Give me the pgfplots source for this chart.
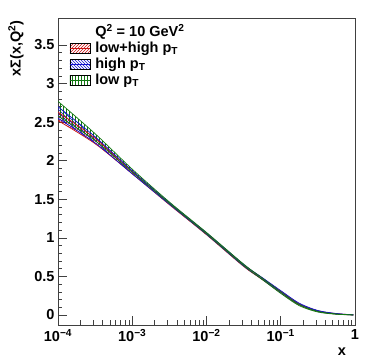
\documentclass[border=0pt]{standalone}
\usepackage{pgfplots}
\pgfplotsset{compat=1.18}
\usepackage{pgfplotstable}
\usepgfplotslibrary{fillbetween}
\usetikzlibrary{patterns}
\usepackage{fontspec}
\setmainfont{Liberation Sans}
\definecolor{rred}{HTML}{CC1111}
\definecolor{rblue}{HTML}{1111CC}
\definecolor{rgreen}{HTML}{117711}
\newcommand\rootfont{\bfseries\fontsize{14.5}{16}\selectfont}

% x, upper, lower edge of each band (Q^2 = 10 GeV^2)
\pgfplotstableread{
x        up     lo
1e-4     2.63   2.52
3.16e-4  2.29   2.22
1e-3     1.86   1.83
3.16e-3  1.45   1.43
1e-2     1.06   1.04
3.16e-2  0.65   0.63
5.62e-2  0.48   0.46
0.1      0.31   0.29
0.178    0.145  0.13
0.316    0.054  0.045
0.562    0.017  0.012
0.95     0.002  0.0
}\lowhigh
\pgfplotstableread{
x        up     lo
1e-4     2.70   2.55
3.16e-4  2.31   2.23
1e-3     1.87   1.83
3.16e-3  1.455  1.435
1e-2     1.065  1.045
3.16e-2  0.655  0.635
5.62e-2  0.485  0.465
0.1      0.315  0.295
0.178    0.152  0.137
0.316    0.058  0.049
0.562    0.019  0.014
0.95     0.002  0.0
}\high
\pgfplotstableread{
x        up     lo
1e-4     2.77   2.58
3.16e-4  2.35   2.26
1e-3     1.89   1.85
3.16e-3  1.465  1.445
1e-2     1.07   1.05
3.16e-2  0.66   0.64
5.62e-2  0.48   0.46
0.1      0.30   0.28
0.178    0.135  0.12
0.316    0.046  0.038
0.562    0.013  0.009
0.95     0.001  0.0
}\low

\begin{document}
\begin{tikzpicture}
\begin{axis}[
  at={(0,0)}, anchor=south west,
  scale only axis, width=297pt, height=307pt,
  xmode=log, xmin=1e-4, xmax=1,
  ymin=-0.13, ymax=3.85,
  xtick={1e-4,1e-3,1e-2,1e-1,1},
  xticklabels={10\textsuperscript{−4},10\textsuperscript{−3},10\textsuperscript{−2},10\textsuperscript{−1},1},
  ytick={0,0.5,1,1.5,2,2.5,3,3.5},
  minor y tick num=4,
  xtick pos=bottom, ytick pos=left,
  tick align=inside,
  major tick length=9pt, minor tick length=4.5pt,
  every tick/.style={black!75, line width=0.6pt},
  axis line style={black!75, line width=0.8pt},
  /pgf/number format/assume math mode=true,
  tick label style={font=\rootfont},
  xticklabel style={yshift=-1pt},
  legend style={at={(rel axis cs:0.035,0.99)}, anchor=north west, draw=none, fill=none,
    font=\rootfont, row sep=0pt, inner sep=1pt,
    /tikz/every odd column/.append style={column sep=3pt}},
  legend cell align=left,
  every axis plot/.append style={line width=0.7pt},
]
\addlegendimage{empty legend}
\addlegendentry{Q\textsuperscript{2} = 10 GeV\textsuperscript{2}}
\addlegendimage{legend image code/.code={
  \fill[pattern=north east lines, pattern color=rred] (0pt,-5pt) rectangle (20pt,5pt);
  \draw[rred, line width=0.7pt] (0pt,0pt) -- (20pt,0pt);}}
\addlegendentry{low+high p\textsubscript{T}}
\addlegendimage{legend image code/.code={
  \fill[pattern=north west lines, pattern color=rblue] (0pt,-5pt) rectangle (20pt,5pt);
  \draw[rblue, line width=0.7pt] (0pt,0pt) -- (20pt,0pt);}}
\addlegendentry{high p\textsubscript{T}}
\addlegendimage{legend image code/.code={
  \fill[pattern=vertical lines, pattern color=rgreen] (0pt,-5pt) rectangle (20pt,5pt);
  \draw[rgreen, line width=0.7pt] (0pt,0pt) -- (20pt,0pt);}}
\addlegendentry{low p\textsubscript{T}}

\addplot[name path=ru, rred, smooth, forget plot] table[x=x, y=up] {\lowhigh};
\addplot[name path=rl, rred, smooth, forget plot] table[x=x, y=lo] {\lowhigh};
\addplot[pattern=north east lines, pattern color=rred, draw=none, forget plot] fill between[of=ru and rl];

\addplot[name path=bu, rblue, smooth, forget plot] table[x=x, y=up] {\high};
\addplot[name path=bl, rblue, smooth, forget plot] table[x=x, y=lo] {\high};
\addplot[pattern=north west lines, pattern color=rblue, draw=none, forget plot] fill between[of=bu and bl];

\addplot[name path=gu, rgreen, smooth, forget plot] table[x=x, y=up] {\low};
\addplot[name path=gl, rgreen, smooth, forget plot] table[x=x, y=lo] {\low};
\addplot[pattern=vertical lines, pattern color=rgreen, draw=none, forget plot] fill between[of=gu and gl];
\end{axis}
\node[font=\rootfont] at (284pt,-27pt) {x};
\node[rotate=90, anchor=east, font=\rootfont] at (-42pt,308pt) {xΣ(x,Q\textsuperscript{2})};
\path (-58pt,-38pt) rectangle (316pt,325pt);
\end{tikzpicture}
\end{document}
